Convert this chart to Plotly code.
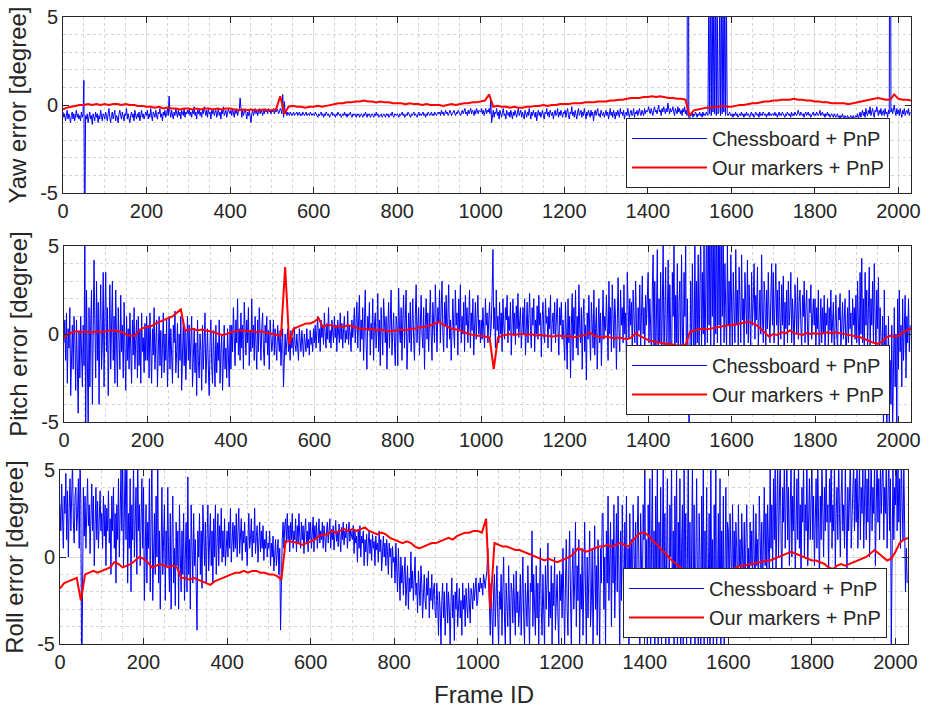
import plotly.graph_objects as go

# ---------------- data ----------------
BLUE_STEP = 2    # frames between samples of the chessboard series
RED_STEP = 10    # frames between samples of the marker series

yaw_chess = [
    -0.4,-0.7,-0.5,-0.9,-0.6,-0.3,-0.8,-0.5,-0.7,-1.0,-0.6,-0.4,-0.8,-0.5,-0.9,-0.6,-0.3,-0.7,-0.5,-0.8,
    -0.6,-0.9,-0.4,-0.7,-0.5,1.4,-9.0,-0.6,-0.8,-0.5,-1.0,-0.7,-0.4,-0.8,-0.6,-1.1,-0.5,-0.7,-0.9,-0.4,
    -0.7,-0.5,-1.0,-0.6,-0.8,-0.3,-0.7,-0.9,-0.5,-0.6,
    -0.8,-0.4,-0.6,-0.9,-0.5,-0.2,-0.7,-1.0,-0.6,-0.4,-0.8,-0.5,-0.3,-0.9,-0.6,-0.7,-1.0,-0.5,-0.3,-0.6,
    -0.8,-0.4,-0.7,-0.9,-0.5,-0.6,-0.2,-0.8,-0.5,-0.7,-1.0,-0.6,-0.4,-0.7,-0.5,-0.9,-0.3,-0.6,-0.8,-0.5,
    -0.7,-0.4,-0.9,-0.6,-0.3,-0.7,-0.5,-0.8,-0.6,-0.4,
    -0.6,-0.3,-0.8,-0.5,-0.7,-0.2,-0.6,-0.9,-0.4,-0.5,-0.7,-0.3,-0.6,-0.8,-0.4,-0.5,-0.2,-0.7,-0.5,-0.9,
    -0.4,-0.6,-0.3,-0.7,-0.5,-0.2,-0.6,0.5,-0.4,-0.7,-0.3,-0.5,-0.8,-0.4,-0.6,-0.2,-0.5,-0.7,-0.3,-0.6,
    -0.4,-0.8,-0.3,-0.5,-0.6,-0.2,-0.7,-0.4,-0.5,-0.3,
    -0.5,-0.2,-0.6,-0.4,-0.7,-0.3,-0.5,-0.1,-0.6,-0.4,-0.8,-0.3,-0.5,-0.2,-0.6,-0.4,-0.7,-0.3,-0.5,-0.1,
    -0.4,-0.6,-0.3,-0.7,-0.2,-0.5,-0.4,-0.8,-0.3,-0.5,-0.2,-0.6,-0.4,-0.3,-0.7,-0.5,-0.2,-0.6,-0.4,-0.8,
    -0.3,-0.5,-0.1,-0.6,-0.4,-0.3,-0.7,-0.5,-0.2,-0.4,
    -0.5,-0.3,-0.6,-0.2,-0.4,-0.7,-0.3,-0.5,-0.2,-0.6,-0.4,-0.3,0.4,-0.5,-0.7,-0.3,-0.6,-0.4,-0.2,-0.5,
    -0.8,-0.4,-0.6,-0.3,-0.9,-1.0,-0.5,-0.3,-0.6,-0.4,-0.2,-0.5,-0.3,-0.6,-0.4,-0.2,-0.5,-0.3,-0.4,-0.6,
    -0.3,-0.5,-0.2,-0.4,-0.3,-0.5,-0.2,-0.4,-0.3,-0.5,
    -0.3,-0.4,-0.2,-0.5,-0.3,-0.4,-0.2,-0.3,-0.5,-0.4,-0.2,-0.3,-0.5,0.6,-0.7,0.2,-0.5,-0.3,-0.6,-0.4,
    -0.5,-0.6,-0.4,-0.5,-0.6,-0.5,-0.4,-0.6,-0.5,-0.5,-0.4,-0.6,-0.5,-0.4,-0.6,-0.5,-0.6,-0.4,-0.5,-0.6,
    -0.5,-0.4,-0.6,-0.5,-0.5,-0.6,-0.4,-0.5,-0.6,-0.5,
    -0.5,-0.6,-0.4,-0.5,-0.6,-0.7,-0.5,-0.6,-0.5,-0.4,-0.6,-0.5,-0.7,-0.5,-0.6,-0.4,-0.5,-0.6,-0.5,-0.7,
    -0.6,-0.5,-0.4,-0.6,-0.5,-0.6,-0.7,-0.5,-0.6,-0.4,-0.5,-0.6,-0.5,-0.7,-0.6,-0.5,-0.6,-0.4,-0.6,-0.5,
    -0.7,-0.5,-0.6,-0.5,-0.4,-0.6,-0.7,-0.5,-0.6,-0.5,
    -0.6,-0.7,-0.5,-0.6,-0.5,-0.7,-0.6,-0.5,-0.6,-0.7,-0.5,-0.6,-0.4,-0.6,-0.7,-0.5,-0.6,-0.5,-0.7,-0.6,
    -0.5,-0.6,-0.7,-0.5,-0.6,-0.4,-0.6,-0.5,-0.7,-0.6,-0.6,-0.5,-0.7,-0.6,-0.5,-0.6,-0.7,-0.5,-0.6,-0.5,
    -0.7,-0.6,-0.5,-0.6,-0.4,-0.6,-0.7,-0.5,-0.6,-0.6,
    -0.5,-0.6,-0.7,-0.5,-0.6,-0.5,-0.4,-0.6,-0.5,-0.7,-0.6,-0.5,-0.6,-0.4,-0.5,-0.6,-0.7,-0.5,-0.6,-0.5,
    -0.4,-0.6,-0.5,-0.6,-0.7,-0.5,-0.4,-0.6,-0.5,-0.6,-0.5,-0.4,-0.6,-0.5,-0.7,-0.5,-0.6,-0.4,-0.5,-0.6,
    -0.5,-0.4,-0.6,-0.5,-0.6,-0.4,-0.5,-0.6,-0.5,-0.4,
    -0.5,-0.4,-0.6,-0.3,-0.5,-0.4,-0.6,-0.5,-0.3,-0.5,-0.4,-0.6,-0.5,-0.3,-0.4,-0.6,-0.5,-0.4,-0.3,-0.5,
    -0.6,-0.4,-0.5,-0.3,-0.4,-0.5,-0.6,-0.4,-0.3,-0.5,-0.4,-0.2,-0.5,-0.4,-0.6,-0.3,-0.5,-0.4,-0.2,-0.5,
    -0.3,-0.4,-0.6,-0.3,-0.5,-0.2,-0.4,-0.5,-0.3,-0.4,
    -0.4,-0.2,-0.5,-0.3,-0.6,-0.4,-0.2,-0.5,-0.3,-0.4,-0.2,-0.5,0.3,-1.0,-0.6,-0.3,-0.7,-0.4,-0.5,-0.2,
    -0.6,-0.4,-0.8,-0.3,-0.5,-0.7,-0.4,-0.2,-0.6,-0.5,-0.8,-0.3,-0.5,-0.6,-0.4,-0.7,-0.3,-0.5,-0.8,-0.4,
    -0.6,-0.3,-0.5,-0.7,-0.4,-0.2,-0.6,-0.5,-0.3,-0.7,
    -0.4,-0.6,-0.8,-0.3,-0.5,-0.7,-0.4,-0.6,-0.2,-0.5,-0.8,-0.4,-0.6,-0.3,-0.5,-0.7,-0.4,-0.9,-0.5,-0.3,
    -0.6,-0.4,-0.7,-0.5,-0.3,-0.6,-0.8,-0.4,-0.5,-0.2,-0.6,-0.4,-0.7,-0.3,-0.5,-0.6,-0.4,-0.8,-0.5,-0.3,
    -0.6,-0.5,-0.2,-0.7,-0.4,-0.6,-0.3,-0.5,-0.7,-0.4,
    -0.5,-0.3,-0.7,-0.4,-0.2,-0.6,-0.8,-0.4,-0.5,-0.1,-0.6,-0.4,-0.7,-0.3,-0.5,-0.8,-0.4,-0.2,-0.6,-0.5,
    -0.3,-0.7,-0.4,-0.6,-0.2,-0.5,-0.8,-0.4,-0.6,-0.3,-0.5,-0.7,-0.3,-0.6,-0.4,-0.9,-0.5,-0.3,-0.6,-0.4,
    -0.2,-0.6,-0.5,-0.7,-0.3,-0.5,-0.6,-0.4,-0.7,-0.5,
    -0.3,-0.6,-0.4,-0.8,-0.5,-0.2,-0.6,-0.4,-0.7,-0.3,-0.5,-0.8,-0.4,-0.6,-0.3,-0.5,-0.7,-0.2,-0.5,-0.4,
    -0.6,-0.3,-0.8,-0.5,-0.4,-0.6,-0.2,-0.5,-0.7,-0.4,-0.3,-0.6,-0.5,-0.2,-0.7,-0.4,-0.5,-0.3,-0.6,-0.4,
    -0.2,-0.5,-0.6,-0.3,-0.4,-0.6,-0.2,-0.5,-0.3,-0.4,
    -0.3,-0.1,-0.4,-0.5,-0.2,-0.4,-0.6,-0.3,-0.1,-0.4,-0.3,-0.5,-0.2,0.0,-0.4,-0.3,-0.6,-0.2,-0.4,-0.1,
    -0.3,-0.5,-0.2,-0.4,0.1,-0.3,-0.5,-0.2,-0.4,-0.3,-0.1,-0.4,-0.6,-0.2,-0.3,-0.5,-0.1,-0.4,-0.2,-0.5,
    -0.3,-0.6,-0.2,-0.4,-0.1,-0.5,-0.3,-0.6,30,-0.7,
    -0.8,-0.5,-0.6,-0.4,-0.7,-0.5,-0.6,-0.4,-0.5,-0.7,-0.5,-0.6,-0.4,-0.6,-0.5,-0.7,-0.4,-0.6,-0.5,-0.6,
    -0.4,-0.5,-0.6,6.5,-0.5,6.5,-0.6,6.5,-0.4,6.5,-0.5,6.5,-0.6,6.5,-0.5,-0.4,6.5,-0.6,6.5,-0.5,
    6.5,-0.4,6.5,-0.6,6.5,-0.5,-0.6,-0.5,-0.4,-0.6,
    -0.6,-0.5,-0.7,-0.5,-0.6,-0.4,-0.6,-0.5,-0.7,-0.6,-0.5,-0.6,-0.4,-0.6,-0.5,-0.7,-0.5,-0.6,-0.4,-0.6,
    -0.5,-0.6,-0.7,-0.5,-0.4,-0.6,-0.5,-0.7,-0.6,-0.4,-0.5,-0.6,-0.5,-0.7,-0.4,-0.6,-0.5,-0.6,-0.4,-0.5,
    -0.6,-0.5,-0.7,-0.5,-0.6,-0.4,-0.6,-0.5,-0.6,-0.5,
    -0.5,-0.6,-0.4,-0.6,-0.5,-0.7,-0.5,-0.4,-0.6,-0.5,-0.6,-0.4,-0.5,-0.6,-0.7,-0.5,-0.6,-0.4,-0.5,-0.6,
    -0.5,-0.7,-0.4,-0.6,-0.5,-0.6,-0.4,-0.5,-0.6,-0.5,-0.3,-0.5,-0.6,-0.4,-0.5,-0.6,-0.5,-0.7,-0.5,-0.4,
    -0.6,-0.5,-0.4,-0.6,-0.5,-0.7,-0.6,-0.5,-0.4,-0.6,
    -0.5,-0.6,-0.4,-0.5,-0.6,-0.5,-0.3,-0.6,-0.5,-0.4,-0.6,-0.5,-0.7,-0.5,-0.6,-0.4,-0.6,-0.5,-0.7,-0.6,
    -0.5,-0.6,-0.7,-0.5,-0.6,-0.7,-0.6,-0.5,-0.7,-0.6,-0.8,-0.6,-0.7,-0.5,-0.7,-0.8,-0.6,-0.7,-0.8,-0.6,
    -0.7,-0.8,-0.7,-0.6,-0.8,-0.7,-0.6,-0.8,-0.7,-0.6,
    -0.7,-0.5,-0.8,-0.6,-0.4,-0.7,-0.5,-0.3,-0.6,-0.4,-0.7,-0.2,-0.5,-0.6,-0.3,-0.5,-0.1,-0.6,-0.4,-0.2,
    -0.5,-0.7,-0.3,-0.4,-0.1,-0.5,-0.6,-0.3,-0.5,-0.2,-0.6,-0.4,-0.3,-0.6,-0.2,-0.5,-0.4,-0.7,-0.3,-0.5,
    30,-0.4,-0.2,-0.5,-0.3,0.0,-0.4,-0.6,-0.2,-0.5,
    -0.3,-0.6,-0.2,-0.4,-0.7,-0.3,-0.5,-0.2,-0.6,-0.4,-0.3,-0.5,-0.2,-0.6,-0.4,
]

yaw_markers = [
    -0.25,-0.15,-0.1,-0.05,0.0,0.0,0.05,0.0,0.05,0.0,
    0.05,0.0,0.05,0.05,0.0,0.05,0.0,0.0,-0.05,-0.05,
    -0.1,-0.1,-0.15,-0.1,-0.2,-0.15,-0.2,-0.2,-0.25,-0.2,
    -0.2,-0.25,-0.2,-0.25,-0.2,-0.2,-0.25,-0.2,-0.25,-0.2,
    -0.2,-0.25,-0.3,-0.25,-0.3,-0.25,-0.3,-0.3,-0.25,-0.3,
    -0.3,-0.25,0.5,-0.5,-0.1,-0.05,-0.1,-0.1,-0.15,-0.1,
    -0.1,-0.05,-0.1,-0.05,0.0,0.05,0.1,0.1,0.15,0.15,
    0.2,0.2,0.25,0.2,0.2,0.15,0.2,0.15,0.15,0.1,
    0.1,0.1,0.05,0.1,0.05,0.05,0.0,0.05,0.0,0.0,
    0.0,-0.05,0.0,0.05,0.0,0.05,0.1,0.1,0.15,0.15,
    0.2,0.25,0.6,-0.1,-0.05,-0.1,-0.1,-0.15,-0.1,-0.15,
    -0.15,-0.1,-0.1,-0.05,-0.05,0.0,-0.05,0.0,0.0,0.05,
    0.05,0.05,0.1,0.1,0.1,0.15,0.15,0.15,0.2,0.2,
    0.2,0.25,0.25,0.3,0.3,0.35,0.4,0.4,0.4,0.45,
    0.45,0.5,0.45,0.5,0.45,0.4,0.4,0.35,0.35,0.3,
    -0.6,-0.3,-0.25,-0.2,-0.15,-0.15,-0.1,-0.1,-0.05,-0.1,
    -0.1,-0.05,0.0,0.0,0.05,0.1,0.1,0.15,0.2,0.2,
    0.25,0.25,0.3,0.3,0.3,0.35,0.3,0.3,0.25,0.25,
    0.2,0.2,0.15,0.15,0.1,0.1,0.1,0.1,0.05,0.1,
    0.15,0.2,0.25,0.3,0.35,0.4,0.35,0.3,0.3,0.6,
    0.35,0.3,0.3,0.25,
]

pitch_chess = [
    -0.5,0.8,-1.5,1.2,-2.8,0.3,-0.8,1.5,-3.5,-1.0,0.5,-2.0,1.0,-0.3,-3.2,0.8,-1.5,-4.5,0.2,-2.5,
    1.0,-0.8,-3.0,0.5,-1.8,6.0,-6.0,2.5,-2.0,-5.5,1.5,-3.0,0.5,2.5,-4.0,-1.0,4.2,0.5,-2.5,3.0,
    -1.5,1.8,-4.0,0.5,2.8,-2.0,-0.5,3.5,-3.0,1.0,
    3.5,-1.0,1.5,-3.5,0.5,2.8,-2.0,0.0,3.0,-1.5,1.0,-2.8,2.5,-0.5,-3.0,1.5,0.0,-2.0,2.2,-1.0,
    0.5,-2.5,1.8,-0.8,-3.2,1.0,-1.5,0.3,-2.0,1.2,-0.5,-2.8,0.8,-1.2,1.5,-2.0,-0.3,0.8,-2.5,1.0,
    -1.8,0.3,-2.8,1.2,-1.0,-0.2,-2.2,0.6,-1.5,1.0,
    -1.5,0.5,-2.5,1.2,-0.8,-2.8,0.3,-1.2,1.5,-2.0,-0.5,0.8,-3.0,-1.0,1.0,-1.8,0.2,-2.5,-0.3,1.2,
    -2.2,0.0,-1.5,0.8,-3.0,-0.8,1.0,-2.0,0.3,-1.2,-2.8,0.5,-0.5,1.3,-2.2,-1.0,0.6,-2.5,0.0,-1.5,
    1.0,-3.2,-0.5,0.8,-1.8,0.2,-2.6,-0.8,1.0,-1.5,
    0.5,-2.0,-0.5,1.0,-3.0,-1.2,0.3,-2.2,-0.5,-3.5,0.8,-1.5,-2.5,0.0,-1.0,-3.2,0.5,-2.0,-0.8,1.2,
    -2.8,-1.0,0.3,-2.0,-3.5,-0.5,0.8,-1.8,-2.8,0.2,-1.2,-3.0,0.5,-2.2,-0.5,-1.5,0.8,-2.8,-1.0,0.0,
    -3.2,-1.5,0.5,-2.0,-0.8,-2.5,0.3,-1.2,-3.0,0.5,
    -2.0,0.5,-1.0,1.5,-0.3,-1.8,0.8,-0.5,2.0,-1.2,0.3,-1.5,1.2,-0.8,0.5,-2.0,1.8,-0.3,-1.2,0.8,
    -0.5,1.5,-1.8,0.2,-1.0,2.0,-0.8,0.5,-1.5,1.0,-0.3,-2.0,0.8,-1.0,1.5,-0.5,-1.5,0.3,1.2,-0.8,
    -1.8,0.5,-0.5,1.0,-1.2,0.2,-2.0,0.8,-0.5,-1.0,
    -0.5,0.8,-1.2,0.3,-0.8,-1.5,0.5,-0.3,-1.0,0.2,-1.8,-0.5,0.3,-3.0,-0.8,0.0,-1.2,-0.5,0.3,-1.0,
    -0.3,-1.5,0.2,-0.8,-0.2,-1.2,0.4,-0.6,-1.0,0.0,-0.8,-1.5,0.3,-0.5,-1.0,0.2,-0.7,-1.3,0.0,-0.5,
    -1.0,0.3,-0.8,-0.3,-1.2,0.2,-0.6,-0.2,-1.0,0.3,
    -0.5,0.5,-0.8,0.2,1.0,-0.5,0.3,-1.0,0.8,-0.2,0.5,-0.6,1.2,0.0,-0.8,0.6,-0.3,1.5,-0.5,0.2,
    -0.8,0.8,0.0,-0.5,1.0,-0.2,0.5,-1.0,0.8,0.0,-0.5,1.2,-0.3,0.6,-0.8,0.3,1.0,-0.5,0.2,-0.3,
    1.3,-0.6,0.5,0.0,-1.0,0.8,-0.2,0.5,1.5,-0.5,
    0.5,1.8,-0.8,0.3,2.2,-1.0,0.8,-0.3,1.5,-1.5,0.5,2.5,-0.5,-2.0,1.0,0.2,1.8,-1.2,0.6,-0.3,
    2.0,-1.5,0.5,1.2,-0.8,0.2,2.3,-1.0,0.8,-1.8,1.5,0.0,-1.2,2.0,0.5,-0.5,1.0,-2.0,0.3,1.8,
    -0.8,0.6,2.5,-1.2,0.2,1.2,-0.5,-1.8,1.0,0.5,
    -1.8,2.6,0.3,-0.5,1.5,-1.5,0.8,2.2,-0.8,0.5,2.5,-2.0,0.3,1.2,-0.5,1.8,-1.0,0.6,2.0,-0.3,
    -1.5,1.0,2.8,-0.5,0.3,1.5,-1.2,0.8,2.2,0.0,-0.8,1.5,-2.0,0.5,2.0,-0.3,1.2,-1.0,0.6,2.5,
    0.0,-1.5,1.8,0.5,-0.5,2.8,0.3,-1.0,1.5,0.6,
    2.5,-0.5,1.5,3.0,0.0,-1.0,1.8,0.5,2.2,-0.8,1.0,2.8,-0.3,0.8,-1.5,1.5,2.0,0.2,-0.8,2.5,
    0.5,1.2,-1.2,2.0,0.3,2.8,-0.5,1.0,0.0,1.8,-1.0,2.2,0.5,1.5,-0.5,0.8,2.5,-0.8,1.2,0.2,
    2.0,-1.2,0.6,1.8,-0.3,1.0,2.2,0.0,0.8,-0.5,
    0.8,-0.3,1.5,0.2,-0.8,2.0,0.5,1.2,-0.5,0.8,1.8,-0.2,0.5,2.2,4.8,0.3,1.5,-0.8,2.5,0.2,
    1.0,-0.5,1.8,0.0,1.2,-1.0,2.0,0.5,-0.3,1.5,0.8,2.2,-0.5,1.0,0.2,1.8,-1.2,0.6,2.0,0.0,
    1.2,-0.6,1.6,0.3,2.3,-0.2,0.8,1.5,-0.8,0.5,
    1.5,0.0,2.0,-1.2,0.8,1.8,-0.5,1.0,2.3,0.2,-0.8,1.5,0.5,2.0,-1.0,0.8,0.0,1.6,-0.3,2.2,
    0.5,1.2,-1.3,0.8,1.8,0.0,-0.5,2.0,0.6,1.0,-0.8,1.5,0.3,2.2,-1.0,0.6,1.2,0.0,1.8,-0.5,
    1.0,2.0,0.2,-1.2,1.5,0.5,1.8,-0.3,0.8,0.0,
    -1.5,1.8,0.3,-2.0,2.0,-0.5,1.0,-2.5,0.5,2.3,-1.5,1.5,0.0,2.5,-0.8,1.0,-1.2,2.8,0.3,-0.5,
    1.5,-2.0,0.8,2.0,-1.0,0.5,-2.6,1.2,-0.3,2.2,0.0,-1.5,1.8,0.5,-0.8,2.5,-1.2,0.3,1.5,-2.0,
    0.8,2.0,-0.5,1.2,-1.8,0.5,2.5,-0.3,1.0,0.2,
    2.2,0.5,-1.5,3.0,0.0,1.5,-1.0,2.8,0.5,-0.8,2.0,0.8,-2.0,1.5,3.2,0.3,-1.0,2.5,0.5,1.5,
    -0.5,2.8,0.0,1.2,-1.5,3.5,0.8,-0.3,2.0,0.5,1.8,-1.2,2.5,0.3,-0.5,3.0,1.0,-1.8,1.5,0.2,
    2.8,-0.8,1.0,3.3,0.0,1.5,-1.0,2.2,0.5,1.8,
    3.5,-0.5,2.0,0.5,-2.0,2.5,4.5,-1.0,3.0,-2.5,1.5,4.8,-3.0,2.0,-0.5,3.5,-2.0,2.5,5.2,-1.5,
    0.5,3.8,-2.5,1.5,4.2,-1.0,2.8,0.0,-3.0,3.5,1.0,5.5,-2.0,2.2,-0.5,4.0,-2.8,1.8,3.0,-1.5,
    4.5,0.5,-2.2,3.5,1.0,5.2,-3.0,2.0,-1.0,-5.5,
    -2.0,3.0,-1.5,4.0,0.5,-2.0,5.5,-1.0,3.0,-0.5,4.5,-1.5,2.5,6.0,-1.0,3.5,0.0,5.5,-2.0,2.0,
    6.5,-0.5,7.0,0.5,6.5,-1.0,7.0,1.0,6.5,-1.5,6.0,0.0,7.0,-0.5,6.5,0.5,7.0,-1.0,6.0,1.0,
    5.5,-0.5,4.0,1.5,-1.0,5.0,0.5,3.0,-1.2,4.5,
    0.5,-1.0,3.5,1.0,-0.5,4.8,0.5,2.5,-1.0,3.8,1.0,-0.5,4.5,0.8,2.0,-0.8,3.5,1.5,0.0,4.2,
    -0.5,2.8,1.2,-1.0,3.5,0.5,1.8,4.0,-0.3,2.2,0.8,3.8,-0.8,1.5,2.5,0.0,4.5,1.0,-0.5,3.0,
    1.8,-1.0,2.5,0.3,3.5,1.0,-0.5,2.0,4.0,0.5,
    3.5,-0.5,1.5,4.0,0.5,2.5,-1.0,3.0,1.0,-0.3,2.8,0.5,3.3,-0.8,1.8,0.3,2.5,-0.5,3.0,0.5,
    1.5,3.5,-0.5,2.0,0.8,-1.0,2.8,1.2,0.0,3.2,-0.3,1.8,2.5,0.5,-0.8,2.2,1.0,3.0,-0.5,1.5,
    2.5,0.2,-1.0,2.0,1.2,2.8,-0.3,0.8,2.0,0.5,
    2.0,-1.0,1.5,0.3,2.5,-1.5,1.0,2.0,-0.5,1.5,0.0,2.2,-1.0,1.2,0.5,2.0,-0.8,1.5,0.2,2.5,
    -0.5,1.0,1.8,-1.2,0.5,2.2,0.0,-0.8,1.5,0.8,2.3,-1.0,0.5,1.8,-0.3,1.0,2.0,-1.5,0.8,1.5,
    -0.5,2.5,0.3,1.2,-1.0,2.0,0.5,1.5,-0.3,2.2,
    -0.5,3.0,0.5,-1.0,3.5,0.0,4.3,-0.5,2.0,-1.5,3.5,0.5,2.5,-0.8,1.5,3.8,-1.0,2.0,0.5,3.0,
    -0.5,4.0,1.0,-1.0,2.5,0.3,3.2,-1.2,1.5,0.0,-2.0,1.0,-5.5,2.5,-4.5,0.5,-5.5,-3.0,1.0,-5.5,
    -1.5,-4.0,0.5,-5.5,-2.5,1.5,-3.0,0.0,-5.5,2.0,
    -2.0,2.5,-1.0,0.5,-3.0,2.0,-1.5,0.5,2.2,-2.5,1.0,-0.5,2.0,-1.0,0.5,
]

pitch_markers = [
    -0.2,0.0,0.1,0.15,0.1,0.15,0.1,0.1,0.15,0.1,
    0.15,0.2,0.2,0.15,0.1,-0.05,-0.1,-0.1,0.2,0.35,
    0.4,0.45,0.6,0.7,0.8,0.9,1.0,1.2,1.4,0.2,
    0.25,0.3,0.2,0.25,0.2,0.15,0.1,0.0,-0.05,0.0,
    0.1,0.15,0.2,0.2,0.15,0.2,0.1,0.15,0.1,0.05,
    0.0,-0.05,-0.1,3.8,-0.6,0.3,0.4,0.5,0.6,0.6,
    0.7,0.9,0.4,0.5,0.5,0.4,0.45,0.4,0.5,0.45,
    0.35,0.3,0.3,0.25,0.3,0.2,0.25,0.2,0.15,0.2,
    0.2,0.25,0.2,0.3,0.3,0.35,0.4,0.45,0.5,0.6,
    0.7,0.5,0.4,0.3,0.25,0.2,0.1,0.0,-0.05,-0.1,
    -0.1,-0.15,-0.2,-2.0,-0.2,-0.1,-0.05,0.0,-0.05,0.0,
    0.0,-0.05,0.0,-0.1,-0.05,-0.1,-0.1,-0.15,-0.1,-0.1,
    -0.15,-0.1,-0.2,-0.15,-0.1,-0.05,0.1,-0.1,-0.15,-0.2,
    -0.15,-0.2,-0.25,-0.2,-0.25,-0.3,-0.2,0.05,-0.1,-0.25,
    -0.35,-0.4,-0.45,-0.5,-0.55,-0.55,-0.6,-0.65,-0.65,-0.6,
    0.1,0.2,0.25,0.3,0.25,0.3,0.35,0.4,0.45,0.5,
    0.5,0.55,0.6,0.65,0.7,0.6,0.5,0.3,0.1,-0.15,
    0.0,-0.05,0.1,0.05,0.2,0.05,0.0,-0.05,0.05,0.0,
    0.05,0.0,0.05,0.1,0.05,0.1,0.05,0.0,-0.05,-0.1,
    -0.15,-0.2,-0.3,-0.4,-0.5,-0.55,-0.45,-0.2,-0.1,-0.15,
    -0.1,0.1,0.2,0.3,
]

roll_chess = [
    3.0,1.5,4.2,2.0,0.5,3.5,2.5,4.8,1.0,3.8,0.0,2.8,4.5,1.5,3.2,5.5,2.0,0.8,3.5,4.0,
    1.5,2.5,4.5,0.5,5.5,3.0,-8.0,2.5,4.0,1.2,3.5,0.5,2.8,4.5,1.8,3.0,0.2,2.5,4.2,1.5,
    3.5,-0.5,2.2,4.0,1.0,3.2,0.5,2.8,3.8,1.5,
    2.5,0.5,3.5,1.2,3.0,-0.5,2.8,1.5,3.8,0.8,2.2,-1.0,3.5,1.5,4.0,0.5,2.5,-1.5,3.0,1.0,
    4.5,0.0,2.5,5.0,1.5,6.0,-0.5,3.5,5.5,1.0,6.0,-1.5,2.5,0.5,4.5,-2.0,3.0,1.0,5.5,0.0,
    2.0,4.0,-1.0,6.0,1.5,3.0,-0.5,2.5,4.5,0.5,
    4.0,-2.5,1.0,3.0,-1.5,2.0,0.5,4.5,-2.0,1.5,6.0,-2.5,0.5,2.5,-1.0,3.5,0.0,5.5,-1.5,1.5,
    -3.0,2.0,4.0,-1.0,0.5,3.0,-2.5,1.5,-0.5,4.0,0.0,-2.0,2.5,-3.0,1.0,3.5,-1.5,0.5,-2.8,2.0,
    -0.5,1.5,-3.0,3.0,0.0,-2.0,1.5,-1.0,2.5,-2.5,
    0.0,2.0,-2.0,4.6,-1.0,1.0,-3.0,3.0,0.5,-1.5,2.5,-0.5,1.0,-2.5,-4.2,1.5,0.0,2.5,-1.0,1.5,
    -1.8,3.0,0.5,-0.5,2.0,-1.5,1.0,3.0,-0.8,0.5,2.5,-0.5,1.5,-1.5,2.2,0.0,3.0,-1.0,1.0,2.5,
    -0.5,1.8,0.5,2.8,-0.3,1.5,0.0,2.2,-0.5,1.0,
    1.5,0.0,2.0,0.5,2.8,-0.3,1.2,2.0,0.3,1.8,0.5,2.5,0.0,1.5,2.8,0.2,1.0,2.2,-0.2,1.5,
    0.8,2.0,0.3,1.2,-0.5,1.8,2.5,0.5,1.0,2.2,0.0,1.5,0.8,2.8,0.2,1.2,1.8,-0.3,1.0,2.0,
    0.3,1.5,0.5,1.8,-0.2,1.0,0.5,1.5,0.0,0.8,
    0.5,1.5,-0.5,0.8,0.0,1.2,-0.8,0.5,1.0,-0.5,0.3,1.0,-1.0,0.5,-4.2,0.2,1.0,2.0,0.5,1.8,
    2.2,0.8,2.5,1.0,1.8,0.3,2.0,1.0,2.5,0.5,1.5,1.0,2.2,0.3,1.8,0.8,2.5,1.2,0.5,2.0,
    1.0,1.8,0.2,1.5,2.2,0.8,1.5,0.3,2.0,1.0,
    2.0,0.5,1.5,2.3,0.3,1.8,1.0,2.0,0.5,1.5,2.2,0.8,1.5,1.0,2.0,0.5,1.8,1.2,0.3,1.5,
    2.0,0.8,1.3,2.2,0.5,1.6,1.0,1.8,0.4,1.4,2.1,0.9,1.5,0.6,1.9,1.2,0.3,1.7,1.0,2.0,
    0.7,1.5,1.1,1.9,0.5,1.4,2.0,0.9,1.6,1.2,
    1.0,1.8,0.2,1.5,0.8,1.2,-0.3,1.6,0.5,1.8,0.0,1.2,0.8,1.5,-0.5,1.0,0.3,1.3,-0.5,0.8,
    1.5,0.2,1.0,-0.2,1.3,0.5,0.9,-0.5,1.2,0.4,0.8,-0.3,1.5,0.3,1.0,-0.8,0.6,1.2,0.0,0.8,
    -0.5,1.0,0.3,-1.0,0.8,0.0,0.5,-1.2,0.6,-0.3,
    0.0,-1.5,0.8,-0.5,-2.0,0.5,-1.0,-2.5,0.0,-1.5,-0.5,-2.2,-1.0,0.0,-2.8,-1.5,-0.5,-3.0,-1.2,-2.0,
    0.3,-1.8,-0.8,-2.5,-1.2,0.0,-2.2,-1.5,-3.2,-0.8,-1.8,-2.8,-0.5,-1.5,-3.5,-2.0,-1.0,-2.5,-3.0,-1.2,
    -2.2,-0.8,-3.5,-1.8,-2.5,-1.0,-3.0,-2.0,-1.5,-3.2,
    -3.5,-1.5,-2.5,-4.5,-2.0,-3.0,-5.0,-2.5,-1.5,-3.5,-2.0,-4.5,-2.5,-1.5,-3.8,-2.0,-3.0,-5.2,-2.5,-1.2,
    -3.5,-2.2,-4.8,-2.0,-3.0,-1.5,-4.0,-2.8,-1.8,-3.5,-2.5,-4.5,-1.5,-3.0,-2.2,-4.0,-1.8,-2.8,-3.5,-1.5,
    -2.5,-3.8,-1.8,-2.2,-3.0,-1.5,-2.5,-2.0,-1.2,-2.8,
    -2.5,-1.5,-2.0,-1.2,-1.8,-1.5,-2.2,-1.0,-1.5,-1.8,-1.2,-0.8,0.5,-1.5,-2.5,-4.5,-1.5,-3.5,-5.0,-2.0,
    -1.0,-4.0,-2.5,-0.5,-3.5,-5.2,-2.0,-3.0,-1.0,-4.5,-2.0,0.0,-3.5,-5.0,-1.5,-2.5,-4.0,-0.5,-3.0,-5.2,
    -1.5,-2.0,-3.8,-1.0,-2.8,-4.5,-0.8,-3.2,-2.0,-4.0,
    -3.0,-1.0,-4.5,-2.0,0.0,-3.5,-5.0,-1.5,-2.5,-4.0,-0.5,-3.0,-5.2,-1.5,-2.0,1.5,-4.0,-1.0,-2.5,-4.5,
    -0.5,-3.5,-1.5,-5.0,-2.0,0.5,-3.0,-4.5,-1.0,-2.5,-5.2,-0.5,-3.0,-1.5,0.8,-4.0,-2.0,-3.5,-0.5,-5.0,
    -1.5,-2.8,0.0,-4.2,-2.0,-1.0,-3.5,-5.0,-0.8,-2.5,
    -1.0,-3.5,0.5,-2.5,-5.0,-1.5,1.0,-3.0,-4.5,-0.5,1.5,-2.0,-5.0,-1.0,0.5,-3.0,-1.5,2.0,-4.0,-0.5,
    -2.5,1.0,-5.2,-1.0,-3.0,0.5,-4.5,-1.5,2.0,-2.0,-5.0,0.0,-3.5,-1.0,1.5,-4.0,-2.5,0.5,-5.2,-1.5,
    1.8,-3.0,-0.5,-4.5,1.0,-2.0,-5.2,0.5,-1.5,2.5,
    2.5,-3.0,0.0,-5.2,1.5,-1.5,3.5,-2.5,-0.5,2.0,-4.0,1.0,-1.5,3.0,-3.5,0.5,2.5,-2.0,3.5,-1.0,
    -5.2,1.5,-2.5,3.0,0.0,-4.0,2.0,-1.0,3.5,-3.0,0.5,-5.2,2.5,-1.5,1.0,-3.5,3.0,-0.5,-2.0,2.0,
    -4.5,1.5,3.5,-1.0,-5.2,2.5,0.0,-3.0,3.0,1.0,
    5.5,-2.5,1.0,-5.2,3.0,-1.0,4.5,-5.2,0.5,5.5,-3.0,1.5,-5.2,3.5,-1.5,5.5,-5.2,2.0,-2.0,4.0,
    -5.2,0.5,5.5,-3.5,2.5,-5.2,1.0,4.5,-2.0,-5.2,3.0,0.0,5.5,-4.0,1.5,-5.2,3.5,-1.0,5.5,-5.2,
    2.0,-2.5,4.5,-5.2,0.5,3.0,-5.2,5.5,-1.5,2.5,
    -5.2,1.5,5.5,-4.0,2.0,-5.2,0.5,5.5,-3.0,3.0,-5.2,1.0,4.5,-2.0,-5.2,2.5,0.0,-5.2,3.5,-1.0,
    5.5,-5.2,1.5,-3.0,4.0,-5.2,0.5,2.5,-5.2,5.5,-2.0,1.0,-5.2,3.0,-1.5,5.5,-5.2,0.0,2.5,-4.0,
    4.5,-5.2,1.5,-2.5,3.5,-5.2,0.5,4.0,-3.0,2.0,
    1.5,-3.0,2.5,0.0,-2.0,3.0,-1.0,1.5,-2.5,2.0,0.5,-3.0,3.0,-0.5,1.0,-2.0,2.5,0.0,-1.5,2.0,
    -2.5,1.0,3.0,-1.0,0.5,-3.0,2.0,-0.5,1.5,-2.0,3.0,0.0,-1.5,2.5,-0.5,1.0,-2.5,3.5,0.5,-1.0,
    2.0,-2.0,1.0,4.0,-0.5,2.5,-1.5,3.0,0.5,-1.0,
    5.5,0.5,3.0,-1.0,4.5,1.0,5.5,-1.5,2.5,5.5,0.0,3.5,6.0,1.5,-2.0,4.0,2.0,5.5,0.5,3.0,
    6.0,1.0,4.0,-0.5,2.5,5.5,0.0,3.5,1.5,6.0,-1.0,2.5,4.5,1.0,5.5,0.5,3.0,-1.5,4.0,2.0,
    5.5,0.0,3.0,1.5,6.0,-0.5,2.5,4.5,1.0,3.5,
    5.5,1.0,3.5,-0.5,2.5,4.5,0.5,5.5,2.0,-1.5,3.5,1.0,5.5,2.5,0.0,4.0,1.5,5.5,2.0,3.0,
    -1.0,4.5,2.0,6.0,0.5,3.0,1.5,5.5,-0.5,2.5,4.0,1.0,6.0,2.5,0.0,3.5,5.0,1.5,3.0,0.5,
    5.5,2.0,-1.0,4.0,1.5,3.5,6.0,0.5,2.5,4.5,
    5.5,1.5,4.5,2.0,6.0,0.5,3.5,5.5,1.0,4.0,2.5,5.5,0.5,3.0,6.0,1.0,4.5,2.0,5.5,0.0,
    3.5,6.0,1.5,4.0,2.5,5.5,-0.5,3.0,6.0,2.0,4.5,1.0,5.5,2.5,3.5,6.0,1.0,4.0,2.5,5.5,
    0.5,3.5,6.0,1.5,4.5,-5.2,2.5,5.5,1.0,4.0,
    3.0,6.0,1.5,5.5,2.0,4.5,0.5,6.0,3.0,1.0,5.5,2.5,-2.0,0.5,-1.5,
]

roll_markers = [
    -1.8,-1.5,-1.4,-1.3,-1.2,-2.5,-1.0,-0.9,-0.8,-0.9,
    -0.8,-0.7,-0.6,-0.3,-0.4,-0.6,-0.5,-0.4,-0.2,0.0,
    -0.1,-0.3,-0.6,-0.5,-0.4,-0.5,-0.6,-0.5,-0.6,-1.2,
    -1.2,-1.3,-1.2,-1.3,-1.4,-1.5,-1.6,-1.4,-1.3,-1.2,
    -1.1,-1.0,-0.9,-0.9,-0.8,-0.9,-0.8,-0.8,-0.9,-0.9,
    -1.0,-1.0,-1.1,-1.3,0.9,0.9,0.85,0.8,0.7,0.8,
    0.9,1.0,1.2,1.3,1.3,1.5,1.4,1.5,1.6,1.5,
    1.6,1.5,1.6,1.7,1.5,1.4,1.3,1.4,1.3,1.1,
    1.0,0.9,0.8,0.9,0.8,0.6,0.5,0.6,0.7,0.8,
    0.8,0.9,1.0,1.1,1.0,1.2,1.3,1.4,1.4,1.5,
    1.5,1.4,2.2,-3.0,0.8,0.7,0.6,0.6,0.5,0.4,
    0.4,0.3,0.2,0.1,0.0,-0.1,-0.2,-0.1,-0.2,-0.3,
    -0.2,-0.1,0.0,0.2,0.5,0.4,0.3,0.4,0.5,0.6,
    0.6,0.7,0.6,0.7,0.8,0.7,0.6,0.9,1.2,1.4,
    1.4,1.2,0.9,0.7,0.4,0.2,-0.1,-0.3,-0.5,-0.7,
    -0.9,-1.0,-1.0,-1.1,-1.0,-0.9,-1.0,-0.9,-1.0,-0.9,
    -0.8,-0.7,-0.6,-0.5,-0.5,-0.4,-0.4,-0.3,-0.3,-0.2,
    -0.2,-0.1,0.0,0.1,0.2,0.3,0.2,0.1,0.0,-0.1,
    -0.2,-0.2,-0.3,-0.4,-0.6,-0.7,-0.5,-0.4,-0.5,-0.4,
    -0.3,-0.2,-0.1,0.0,0.2,0.4,0.2,0.0,-0.2,-0.1,
    0.3,0.8,1.0,1.1,
]

x_ticks = [0, 200, 400, 600, 800, 1000, 1200, 1400, 1600, 1800, 2000]
y_ticks = [-5, 0, 5]
y_titles = ["Yaw error [degree]", "Pitch error [degree]", "Roll error [degree]"]
series_names = ["Chessboard + PnP", "Our markers + PnP"]

# ---------------- figure ----------------
FONT = "Liberation Sans, Arial, Helvetica, sans-serif"
TXT = "#262626"
W, H = 932, 710

panels = [
    (yaw_chess, yaw_markers),
    (pitch_chess, pitch_markers),
    (roll_chess, roll_markers),
]
# pixel boxes of the three plot areas (left, right, top, bottom)
boxes = [(63, 911, 17, 193), (64, 911, 246, 422), (60, 908, 470, 644)]
# legend boxes: right edge and vertical centre (pixels)
legend_boxes = [(890, 153), (890, 380), (887, 603)]

fig = go.Figure()
layout = dict(
    width=W, height=H,
    margin=dict(l=0, r=0, t=0, b=0, autoexpand=False),
    paper_bgcolor="white", plot_bgcolor="white",
    font=dict(family=FONT, color=TXT, size=20),
    showlegend=True,
)

for i, (chess, markers) in enumerate(panels):
    k = "" if i == 0 else str(i + 1)
    lg = "legend" + k
    fig.add_trace(go.Scatter(
        x=[j * BLUE_STEP for j in range(len(chess))], y=chess,
        mode="lines", name=series_names[0],
        line=dict(color="#0000ff", width=1),
        xaxis="x" + k, yaxis="y" + k, legend=lg, hoverinfo="skip",
    ))
    fig.add_trace(go.Scatter(
        x=[j * RED_STEP for j in range(len(markers))], y=markers,
        mode="lines", name=series_names[1],
        line=dict(color="#ff0000", width=2),
        xaxis="x" + k, yaxis="y" + k, legend=lg, hoverinfo="skip",
    ))

    l, r, t, b = boxes[i]
    common = dict(
        showline=True, linecolor=TXT, linewidth=1, mirror="ticks",
        ticks="inside", ticklen=6, tickcolor=TXT, tickwidth=1,
        showgrid=True, gridcolor="#dedede", gridwidth=1, zeroline=False,
        tickfont=dict(family=FONT, size=20, color=TXT), automargin=False,
    )
    xa = dict(common,
              domain=[l / W, r / W], anchor="y" + k, range=[0, 2030],
              tickvals=x_ticks, ticktext=[str(v) for v in x_ticks],
              minor=dict(dtick=50, tick0=0, showgrid=True, gridcolor="#d4d4d4",
                         griddash="dot", gridwidth=1, ticks=""))
    ya = dict(common,
              domain=[1 - b / H, 1 - t / H], anchor="x" + k, range=[-5, 5],
              tickvals=y_ticks, ticktext=[str(v) for v in y_ticks],
              minor=dict(dtick=1, tick0=0, showgrid=True, gridcolor="#d4d4d4",
                         griddash="dot", gridwidth=1, ticks=""),
              title=dict(text=y_titles[i], font=dict(family=FONT, size=24, color=TXT),
                         standoff=6))
    if i == 2:
        xa["title"] = dict(text="Frame ID", font=dict(family=FONT, size=24, color=TXT),
                           standoff=14)
    layout["xaxis" + k] = xa
    layout["yaxis" + k] = ya

    lx, ly = legend_boxes[i]
    layout[lg] = dict(
        x=lx / W, xanchor="right", y=1 - ly / H, yanchor="middle",
        bgcolor="white", bordercolor=TXT, borderwidth=1,
        font=dict(family=FONT, size=20, color=TXT),
        itemwidth=75, tracegroupgap=0,
    )

fig.update_layout(**layout)
fig.write_html(
    "out.html",
    config={"displayModeBar": False},
    post_script="document.body.style.margin='0';document.body.style.padding='0';",
)
